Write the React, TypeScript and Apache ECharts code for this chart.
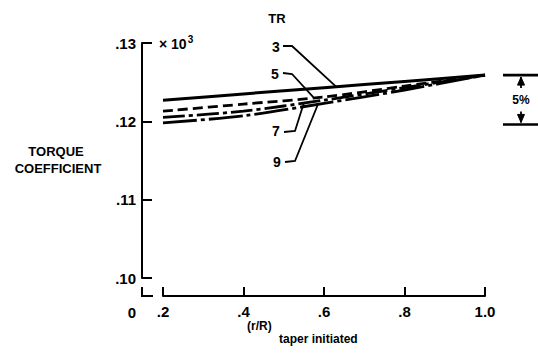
import React, { useEffect, useRef } from "react";
import * as echarts from "echarts";

// (r/R) at which taper starts
const xValues = [0.2, 0.4, 0.6, 0.8, 1.0];
// Torque coefficient (x 10^3) for each taper ratio
const tr3 = [0.1227, 0.1235, 0.1243, 0.1251, 0.1259];
const tr5 = [0.1213, 0.1222, 0.1231, 0.1245, 0.1259];
const tr7 = [0.1205, 0.1213, 0.1227, 0.1243, 0.1259];
const tr9 = [0.1198, 0.1207, 0.1223, 0.124, 0.1259];
const trNames = ["3", "5", "7", "9"];
const yTickValues = [0.1, 0.11, 0.12, 0.13];
const xTickValues = [0.2, 0.4, 0.6, 0.8, 1.0];
const bandPercent = 5;

const FONT = "'Liberation Sans', 'DejaVu Sans', sans-serif";
const INK = "#000";

const pair = (ys: number[]) => xValues.map((x, i) => [x, ys[i]]);

function interp(ys: number[], x: number): number {
  for (let i = 0; i < xValues.length - 1; i++) {
    if (x >= xValues[i] && x <= xValues[i + 1]) {
      const t = (x - xValues[i]) / (xValues[i + 1] - xValues[i]);
      return ys[i] + t * (ys[i + 1] - ys[i]);
    }
  }
  return ys[ys.length - 1];
}

export default function App() {
  const ref = useRef<HTMLDivElement>(null);

  useEffect(() => {
    const chart = echarts.init(ref.current!, null, { renderer: "svg" });
    const seriesStyles = [
      { data: tr3, type: "solid", width: 3 },
      { data: tr5, type: [10, 5], width: 2.8 },
      { data: tr7, type: [22, 4, 4, 4], width: 2.8 },
      { data: tr9, type: [34, 4, 4, 4], width: 2.8 },
    ];
    chart.setOption({
      animation: false,
      backgroundColor: "#fff",
      grid: { left: 163, right: 53, top: 43, bottom: 78, containLabel: false },
      xAxis: {
        type: "value",
        min: 0.2,
        max: 1.0,
        interval: 0.2,
        offset: 18,
        splitLine: { show: false },
        axisLine: { lineStyle: { color: INK, width: 2 } },
        axisTick: { inside: true, length: 9, lineStyle: { color: INK, width: 2 } },
        axisLabel: {
          margin: 8,
          color: INK,
          fontFamily: FONT,
          fontWeight: "bold",
          fontSize: 15,
          formatter: (v: number) => {
            const hit = xTickValues.find((t) => Math.abs(t - v) < 1e-6);
            if (hit === undefined) return "";
            return hit >= 1 ? hit.toFixed(1) : "." + Math.round(hit * 10);
          },
        },
      },
      yAxis: {
        type: "value",
        min: 0.1,
        max: 0.13,
        interval: 0.01,
        offset: 21,
        splitLine: { show: false },
        axisLine: { lineStyle: { color: INK, width: 2 } },
        axisTick: { inside: true, length: 10, lineStyle: { color: INK, width: 2 } },
        axisLabel: {
          margin: 6,
          color: INK,
          fontFamily: FONT,
          fontWeight: "bold",
          fontSize: 15,
          formatter: (v: number) => {
            const hit = yTickValues.find((t) => Math.abs(t - v) < 1e-6);
            return hit === undefined ? "" : hit.toFixed(2).replace(/^0/, "");
          },
        },
      },
      series: seriesStyles.map((s, i) => ({
        name: trNames[i],
        type: "line",
        data: pair(s.data),
        smooth: 0.3,
        showSymbol: false,
        symbol: "none",
        lineStyle: { color: INK, width: s.width, type: s.type, cap: "butt" },
        z: 3,
      })),
    });

    const px = (x: number, y: number) =>
      chart.convertToPixel({ gridIndex: 0 }, [x, y]) as number[];

    const origin = px(0.2, 0.1);
    const yAxisX = origin[0] - 21;
    const xAxisY = origin[1] + 18;
    const top = px(1.0, 0.13);
    const endTop = px(1.0, tr3[tr3.length - 1]);
    const endLow = px(1.0, tr3[tr3.length - 1] * (1 - bandPercent / 100));

    const text = (t: string, x: number, y: number, size: number, extra: any = {}) => ({
      type: "text",
      x,
      y,
      style: {
        text: t,
        fill: INK,
        font: `bold ${size}px ${FONT}`,
        textAlign: "center",
        textVerticalAlign: "middle",
        ...extra,
      },
      z: 10,
    });
    const line = (pts: number[][], w = 1.8) => ({
      type: "polyline",
      shape: { points: pts },
      style: { stroke: INK, lineWidth: w, fill: "none" },
      z: 10,
    });
    const tri = (pts: number[][]) => ({
      type: "polygon",
      shape: { points: pts },
      style: { fill: INK, stroke: INK, lineWidth: 1 },
      z: 10,
    });

    // leader lines from the TR labels to their curves
    const p3 = px(0.63, interp(tr3, 0.63));
    const p5 = px(0.575, interp(tr5, 0.575));
    const p7 = px(0.55, interp(tr7, 0.55));
    const p9 = px(0.585, interp(tr9, 0.585));

    const bx = 521;
    const graphic: any[] = [
      text("TORQUE", 56, 151, 13),
      text("COEFFICIENT", 58, 168, 13),
      // broken-axis corner at the origin
      text("0", yAxisX - 10, xAxisY + 16, 15),
      line([[yAxisX, xAxisY - 9], [yAxisX, xAxisY], [yAxisX + 11, xAxisY]], 2),
      // multiplier
      {
        type: "text",
        x: yAxisX + 17,
        y: top[1] + 1,
        style: {
          text: "{m|× 10}{s|3}",
          fill: INK,
          textVerticalAlign: "middle",
          rich: {
            m: { font: `bold 14px ${FONT}`, fill: INK },
            s: { font: `bold 10px ${FONT}`, fill: INK, verticalAlign: "top", padding: [0, 0, 10, 1] },
          },
        },
        z: 10,
      },
      text("TR", 277, 18, 13),
      text(trNames[0], 276, 47, 14),
      line([[283, 46], [292, 46], p3]),
      text(trNames[1], 275, 74, 14),
      line([[283, 73], [292, 74], p5]),
      text(trNames[2], 276, 131, 14),
      line([[284, 132], [295, 131], p7]),
      text(trNames[3], 277, 162, 14),
      line([[285, 162], [295, 161], p9]),
      // 5% band
      line([[503, endTop[1]], [538, endTop[1]]], 2.6),
      line([[503, endLow[1]], [538, endLow[1]]], 2.6),
      line([[bx, endTop[1] + 2], [bx, endTop[1] + 13]], 1.8),
      tri([[bx, endTop[1] + 2], [bx - 3.5, endTop[1] + 10], [bx + 3.5, endTop[1] + 10]]),
      line([[bx, endLow[1] - 2], [bx, endLow[1] - 13]], 1.8),
      tri([[bx, endLow[1] - 2], [bx - 3.5, endLow[1] - 10], [bx + 3.5, endLow[1] - 10]]),
      text(`${bandPercent}%`, bx, (endTop[1] + endLow[1]) / 2, 12),
      // axis title
      text("(r/R)", 247, 326, 12, { textAlign: "left" }),
      text("taper initiated", 279, 339, 12, { textAlign: "left" }),
    ];
    chart.setOption({ graphic });

    return () => chart.dispose();
  }, []);

  return (
    <div
      ref={ref}
      style={{ position: "absolute", left: 0, top: 0, width: 538, height: 356 }}
    />
  );
}
